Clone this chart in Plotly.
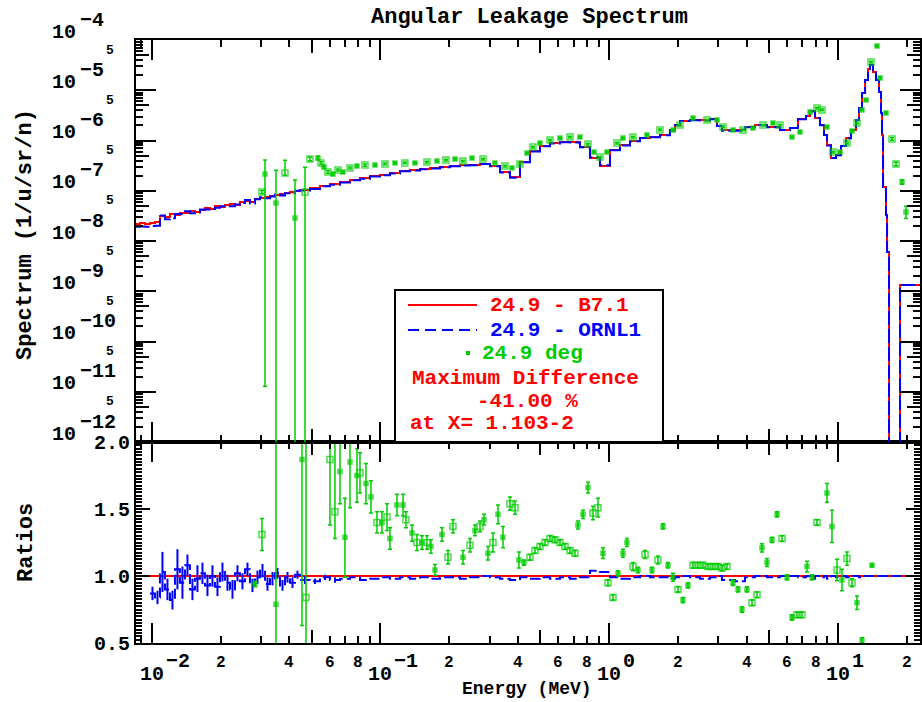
import numpy as np
import plotly.graph_objects as go

# ---------------- calculated spectra (histograms) ----------------
# bin lower edges in MeV (last entry = upper edge of last bin)
calc_edges = [0.00854, 0.00889, 0.00935, 0.00983, 0.01034, 0.01087, 0.01143, 0.01202, 0.01264, 0.01329,
              0.01398, 0.01470, 0.01546, 0.01626, 0.01710, 0.01798, 0.01891, 0.01989, 0.02091, 0.02200,
              0.02313, 0.02432, 0.02558, 0.02690, 0.02829, 0.02976, 0.03129, 0.03291, 0.03461, 0.03639,
              0.03827, 0.04025, 0.04233, 0.04451,
              0.04923, 0.05444, 0.06020, 0.06659, 0.07364, 0.08143, 0.09006, 0.0996, 0.1101, 0.1218,
              0.1347, 0.1490, 0.1648, 0.1822, 0.2015, 0.2229, 0.2465, 0.2726, 0.3015, 0.3334,
              0.3687, 0.4077, 0.4509, 0.4987, 0.5515, 0.6099, 0.6745, 0.7459, 0.8249, 0.9124,
              1.009, 1.116, 1.234, 1.365, 1.509, 1.669, 1.846,
              1.941, 2.042, 2.258, 2.497, 2.762, 2.964, 3.117, 3.553, 3.929, 4.345,
              4.904, 5.589, 6.181, 6.699, 7.262, 7.560, 7.950, 8.361, 8.705, 8.971,
              9.340, 9.823, 10.33, 10.87, 11.42, 12.01, 12.38, 12.76, 13.16, 13.56,
              13.83, 14.25, 14.69, 15.14, 15.45, 15.61, 15.77, 16.25, 16.42, 16.75,
              18.71, 22.88]

# B7.1 spectrum (1/u/sr/n) per bin
b71_flux = [2.18e-8, 2.28e-8, 2.18e-8, 2.28e-8, 2.39e-8, 3.14e-8, 3.00e-8, 3.45e-8, 3.29e-8, 3.61e-8,
            3.61e-8, 3.95e-8, 3.78e-8, 4.14e-8, 4.54e-8, 4.33e-8, 4.97e-8, 4.75e-8, 5.20e-8, 5.45e-8,
            5.20e-8, 5.97e-8, 6.25e-8, 5.97e-8, 6.85e-8, 7.17e-8, 7.51e-8, 7.86e-8, 8.23e-8, 8.61e-8,
            9.02e-8, 9.44e-8, 9.89e-8, 1.04e-7,
            1.13e-7, 1.24e-7, 1.36e-7, 1.49e-7, 1.64e-7, 1.79e-7, 1.97e-7, 2.06e-7, 2.26e-7, 2.47e-7,
            2.59e-7, 2.71e-7, 2.84e-7, 2.97e-7, 3.11e-7, 3.25e-7, 3.25e-7, 3.41e-7, 3.11e-7, 2.36e-7,
            1.88e-7, 3.73e-7, 6.18e-7, 7.77e-7, 8.92e-7, 9.34e-7, 9.34e-7, 7.42e-7, 4.48e-7, 3.11e-7,
            6.47e-7, 8.14e-7, 9.77e-7, 1.12e-6, 1.17e-6, 1.29e-6, 1.62e-6,
            2.03e-6, 2.44e-6, 2.56e-6, 2.56e-6, 2.68e-6, 1.94e-6, 1.62e-6, 1.62e-6, 1.86e-6, 2.03e-6,
            1.86e-6, 1.62e-6, 1.77e-6, 2.68e-6, 3.07e-6, 3.87e-6, 2.80e-6, 2.03e-6, 1.29e-6, 8.14e-7,
            4.48e-7, 5.14e-7, 7.77e-7, 1.12e-6, 1.62e-6, 2.56e-6, 4.43e-6, 8.82e-6, 1.60e-5, 2.65e-5,
            3.18e-5, 2.31e-5, 1.60e-5, 9.23e-6, 3.53e-6, 1.29e-6, 1.19e-7, 3.29e-8, 6.04e-9, 1e-16,
            1.33e-9]

# ORNL1 / B7.1 ratio per bin
ornl_to_b71 = [0.88, 0.85, 0.88, 0.87, 0.84, 1.03, 0.90, 0.82, 1.05, 0.95,
               1.08, 0.90, 0.98, 1.02, 0.93, 1.00, 0.92, 1.03, 0.95, 0.90,
               1.02, 0.96, 1.05, 0.93, 0.99, 1.04, 0.94, 0.98, 1.02, 0.93,
               0.99, 0.95, 1.01, 0.97,
               0.96, 0.99, 0.97, 0.98, 0.99, 0.97, 0.98, 0.99, 0.98, 0.99,
               0.98, 0.99, 0.98, 0.99, 0.99, 0.98, 0.99, 1.00, 0.99, 0.98,
               0.97, 0.99, 0.98, 0.99, 0.98, 0.99, 0.98, 0.99, 1.04, 1.03,
               0.99, 0.98, 0.99, 1.00, 0.99, 0.99, 0.98,
               0.99, 1.00, 0.99, 0.98, 0.99, 1.00, 0.97, 0.96, 0.99, 1.00,
               0.99, 1.00, 1.00, 0.99, 1.00, 0.98, 1.00, 0.99, 1.00, 0.98,
               1.00, 0.99, 1.00, 0.99, 1.00, 1.00, 0.99, 1.00, 1.00, 1.00,
               1.00, 1.00, 1.00, 1.00, 1.00, 1.00, 1.00, 1.00, 1.00, 1.00,
               1.00]
# statistical error of the ratio for the first 37 bins
ornl_ratio_err = [0.05, 0.05, 0.05, 0.05, 0.05, 0.15, 0.08, 0.07, 0.15, 0.12,
                  0.08, 0.08, 0.10, 0.08, 0.08, 0.08, 0.07, 0.07, 0.06, 0.07,
                  0.06, 0.06, 0.05, 0.05, 0.05, 0.05, 0.05, 0.05, 0.04, 0.04,
                  0.04, 0.04, 0.03, 0.03, 0.02, 0.02, 0.02]

# ---------------- measurement, 24.9 deg ----------------
exp_E = [0.03036, 0.03129, 0.03495, 0.03827, 0.04233, 0.04681, 0.04923, 0.05335, 0.05500, 0.05668,
         0.05901, 0.06204, 0.06525, 0.06861, 0.07364, 0.07901, 0.08563, 0.09471, 0.1047, 0.1158,
         0.1280, 0.1416, 0.1598, 0.1768, 0.1935, 0.2120, 0.2297, 0.2515, 0.2810, 0.3170,
         0.3506, 0.3761, 0.4077, 0.4375, 0.4647, 0.4986, 0.5515, 0.6099, 0.6745, 0.7459,
         0.8083, 0.8591, 0.9124, 0.9790, 1.083, 1.150, 1.272, 1.464, 1.669, 1.903,
         2.042, 2.327, 2.680, 2.964, 3.148, 3.482, 3.850, 4.258, 4.709, 5.208,
         5.589, 6.305, 6.834, 7.558, 8.110, 8.529, 8.970, 9.528, 10.22, 10.97,
         11.54, 12.13, 12.76, 13.29, 13.97, 14.84, 15.30, 16.25, 17.26, 17.97,
         19.09, 19.87]
exp_flux = [9.44e-8, 2.15e-7, 5.70e-8, 2.26e-7, 2.87e-8, 9.44e-8, 4.28e-7, 4.48e-7, 3.57e-7, 2.97e-7,
            2.36e-7, 2.15e-7, 2.59e-7, 2.36e-7, 2.84e-7, 3.11e-7, 3.25e-7, 3.25e-7, 3.41e-7, 3.57e-7,
            3.57e-7, 3.57e-7, 3.73e-7, 3.91e-7, 4.09e-7, 4.28e-7, 3.91e-7, 4.48e-7, 4.28e-7, 3.57e-7,
            3.11e-7, 2.84e-7, 3.41e-7, 5.64e-7, 7.42e-7, 8.92e-7, 1.02e-6, 1.12e-6, 1.17e-6, 1.17e-6,
            8.52e-7, 5.90e-7, 4.69e-7, 5.90e-7, 8.92e-7, 1.12e-6, 1.17e-6, 1.29e-6, 1.62e-6, 1.62e-6,
            2.03e-6, 2.80e-6, 2.56e-6, 2.56e-6, 1.86e-6, 1.62e-6, 1.62e-6, 1.77e-6, 2.03e-6, 2.23e-6,
            2.03e-6, 1.17e-6, 1.48e-6, 3.69e-6, 4.43e-6, 4.05e-6, 1.86e-6, 5.90e-7, 5.90e-7, 8.92e-7,
            1.55e-6, 2.23e-6, 4.05e-6, 6.40e-6, 3.65e-5, 7.60e-5, 1.75e-5, 3.53e-6, 1.07e-6, 3.41e-7,
            1.49e-7, 3.78e-8]
# fractional uncertainties (upper / lower)
exp_err_up = [0.07, 0.90, 3.50, 0.80, 4.70, 2.10, 0.08, 0.08, 0.06, 0.06,
              0.06, 0.06, 0.05, 0.05, 0.05, 0.05, 0.05, 0.05, 0.04, 0.04,
              0.04, 0.04, 0.04, 0.04, 0.04, 0.04, 0.04, 0.04, 0.04, 0.04,
              0.04, 0.04, 0.04, 0.04, 0.04, 0.04, 0.04, 0.04, 0.04, 0.04,
              0.04, 0.04, 0.04, 0.04, 0.04, 0.04, 0.04, 0.04, 0.04, 0.04,
              0.04, 0.04, 0.04, 0.04, 0.04, 0.04, 0.04, 0.04, 0.04, 0.04,
              0.04, 0.04, 0.04, 0.04, 0.04, 0.04, 0.04, 0.04, 0.04, 0.04,
              0.04, 0.04, 0.04, 0.04, 0.04, 0.04, 0.05, 0.05, 0.06, 0.08,
              0.10, 0.30]
exp_err_dn = [0.07, 0.99994, 0.99999, 0.10, 0.99999, 0.99999, 0.08, 0.08, 0.06, 0.06,
              0.06, 0.06, 0.05, 0.05, 0.05, 0.05, 0.05, 0.05, 0.04, 0.04,
              0.04, 0.04, 0.04, 0.04, 0.04, 0.04, 0.04, 0.04, 0.04, 0.04,
              0.04, 0.04, 0.04, 0.04, 0.04, 0.04, 0.04, 0.04, 0.04, 0.04,
              0.04, 0.04, 0.04, 0.04, 0.04, 0.04, 0.04, 0.04, 0.04, 0.04,
              0.04, 0.04, 0.04, 0.04, 0.04, 0.04, 0.04, 0.04, 0.04, 0.04,
              0.04, 0.04, 0.04, 0.04, 0.04, 0.04, 0.04, 0.04, 0.04, 0.04,
              0.04, 0.04, 0.04, 0.04, 0.04, 0.04, 0.05, 0.05, 0.06, 0.08,
              0.10, 0.26]
exp_kind = ['o', 'd', 'd', 'o', 'd', 'o', 'o', 'd', 'o', 'd',
            'o', 'd', 'o', 'd', 'o', 'd', 'o', 'd', 'o', 'd',
            'o', 'd', 'o', 'd', 'o', 'd', 'o', 'd', 'o', 'd',
            'o', 'd', 'o', 'd', 'o', 'd', 'o', 'd', 'o', 'd',
            'o', 'd', 'o', 'd', 'o', 'd', 'o', 'd', 'o', 'd',
            'o', 'd', 'o', 'd', 'o', 'd', 'o', 'd', 'o', 'd',
            'o', 'd', 'd', 'd', 'o', 'o', 'd', 'o', 'd', 'o',
            'd', 'o', 'd', 'd', 'o', 'd', 'd', 'd', 'o', 'o',
            'd', 'd']

# ---------------- measurement / B7.1 ratios ----------------
ratio_E = [0.02829, 0.03036, 0.03495, 0.04542, 0.04728, 0.06020, 0.06330, 0.06657, 0.07000, 0.07364,
           0.07901, 0.08143, 0.08650, 0.09096, 0.09663, 0.1016, 0.1069, 0.1101, 0.1182, 0.1256,
           0.1294, 0.1375, 0.1445, 0.1520, 0.1598, 0.1664, 0.1733, 0.1859, 0.1975, 0.2077,
           0.2297, 0.2465, 0.2592, 0.2726, 0.2838, 0.2954, 0.3107, 0.3267, 0.3436, 0.3687,
           0.3878, 0.4036, 0.4245, 0.4509, 0.4742, 0.4987, 0.5245, 0.5515, 0.5800, 0.6099,
           0.6414, 0.6745, 0.7094, 0.7311, 0.7689, 0.8083, 0.8503, 0.8943, 0.9404, 0.9890,
           1.040, 1.094, 1.150, 1.197, 1.272, 1.338, 1.436, 1.540, 1.636, 1.721,
           1.809, 1.903, 2.001, 2.104, 2.213, 2.327, 2.447, 2.574, 2.706, 2.846,
           2.993, 3.117, 3.278, 3.482, 3.662, 3.812, 4.009, 4.216, 4.434, 4.662,
           4.903, 5.156, 5.423, 5.702, 5.997, 6.305, 6.632, 6.974, 7.334, 7.713,
           8.110, 8.970, 9.432, 9.920, 10.43, 10.97, 11.54, 12.13, 12.76, 14.11]
ratio_val = [0.94, 1.31, 0.79, 1.87, 0.84, 1.87, 1.48, 1.78, 1.29, 1.85,
             1.75, 1.77, 1.69, 1.59, 1.40, 1.40, 1.44, 1.28, 1.53, 1.53,
             1.42, 1.32, 1.25, 1.25, 1.25, 1.22, 1.045, 1.31, 1.14, 1.37,
             1.14, 1.23, 1.34, 1.37, 1.42, 1.17, 1.25, 1.46, 1.29, 1.54,
             1.51, 1.12, 1.10, 1.14, 1.19, 1.22, 1.25, 1.28, 1.27, 1.25,
             1.22, 1.19, 1.17, 1.38, 1.46, 1.66, 1.47, 1.51, 1.17, 0.95,
             0.84, 1.02, 1.17, 1.25, 1.07, 1.045, 1.16, 1.045, 1.12, 1.37,
             1.08, 0.99, 0.90, 0.82, 0.93, 1.08, 1.08, 1.08, 1.07, 1.07,
             1.07, 1.06, 1.07, 0.95, 0.90, 0.75, 0.90, 0.80, 0.86, 1.21,
             1.10, 1.27, 1.46, 1.28, 0.99, 0.69, 0.71, 0.71, 1.07, 0.99,
             1.40, 1.62, 1.37, 1.045, 0.97, 1.13, 0.95, 0.80, 0.52, 1.08]
ratio_err_up = [0.02, 0.12, 1.30, 0.30, 1.20, 0.20, 0.60, 0.30, 0.29, 0.20,
                0.20, 0.15, 0.15, 0.12, 0.08, 0.08, 0.10, 0.08, 0.08, 0.08,
                0.06, 0.06, 0.06, 0.05, 0.05, 0.05, 0.04, 0.05, 0.05, 0.05,
                0.05, 0.05, 0.04, 0.04, 0.04, 0.05, 0.07, 0.07, 0.08, 0.05,
                0.05, 0.06, 0.02, 0.02, 0.02, 0.02, 0.02, 0.02, 0.02, 0.02,
                0.02, 0.02, 0.02, 0.03, 0.03, 0.04, 0.05, 0.07, 0.04, 0.02,
                0.02, 0.02, 0.03, 0.03, 0.03, 0.02, 0.03, 0.02, 0.03, 0.02,
                0.02, 0.03, 0.02, 0.02, 0.02, 0.02, 0.02, 0.02, 0.02, 0.02,
                0.02, 0.02, 0.02, 0.02, 0.02, 0.02, 0.02, 0.02, 0.02, 0.03,
                0.03, 0.02, 0.02, 0.02, 0.02, 0.02, 0.02, 0.02, 0.04, 0.02,
                0.02, 0.07, 0.12, 0.08, 0.08, 0.05, 0.03, 0.05, 0.02, 0.01]
ratio_err_dn = [0.02, 0.12, 0.35, 1.24, 0.40, 0.49, 0.20, 0.24, 0.30, 0.34,
                0.20, 0.15, 0.15, 0.12, 0.08, 0.08, 0.10, 0.08, 0.08, 0.08,
                0.06, 0.06, 0.06, 0.05, 0.05, 0.05, 0.04, 0.05, 0.05, 0.05,
                0.05, 0.05, 0.04, 0.04, 0.04, 0.05, 0.07, 0.07, 0.08, 0.05,
                0.05, 0.06, 0.02, 0.02, 0.02, 0.02, 0.02, 0.02, 0.02, 0.02,
                0.02, 0.02, 0.02, 0.03, 0.03, 0.04, 0.05, 0.07, 0.04, 0.02,
                0.02, 0.02, 0.03, 0.03, 0.03, 0.02, 0.03, 0.02, 0.03, 0.02,
                0.02, 0.03, 0.02, 0.02, 0.02, 0.02, 0.02, 0.02, 0.02, 0.02,
                0.02, 0.02, 0.02, 0.02, 0.02, 0.02, 0.02, 0.02, 0.02, 0.03,
                0.03, 0.02, 0.02, 0.02, 0.02, 0.02, 0.02, 0.02, 0.04, 0.02,
                0.02, 0.07, 0.12, 0.08, 0.08, 0.05, 0.03, 0.05, 0.02, 0.01]
ratio_kind = ['d', 'o', 'd', 'd', 'o', 'o', 'o', 'd', 'd', 'd',
              'd', 'o', 'd', 'd', 'o', 'd', 'o', 'd', 'd', 'd',
              'o', 'd', 'o', 'd', 'o', 'd', 'd', 'd', 'o', 'o',
              'd', 'o', 'd', 'o', 'd', 'd', 'o', 'd', 'd', 'o',
              'o', 'd', 'd', 'o', 'o', 'o', 'o', 'o', 'o', 'o',
              'o', 'o', 'o', 'd', 'd', 'd', 'o', 'o', 'd', 'o',
              'o', 'd', 'd', 'd', 'o', 'd', 'o', 'd', 'o', 'd',
              'd', 'd', 'o', 'd', 'd', 'o', 'o', 'o', 'o', 'o',
              'o', 'o', 'o', 'd', 'd', 'd', 'd', 'o', 'o', 'd',
              'd', 'd', 'd', 'o', 'd', 'd', 'o', 'o', 'd', 'd',
              'o', 'd', 'd', 'o', 'd', 'o', 'o', 'd', 'd', 'd']

# ---------------- axes / labels ----------------
x_min, x_max = 0.00854, 22.88
y_dec_exp = [-4, -5, -6, -7, -8, -9, -10, -11, -12]
x_dec_vals = [0.01, 0.1, 1.0, 10.0]
x_dec_exp = ['\u22122', '\u22121', '0', '1']
x_digit_vals = [0.02, 0.04, 0.06, 0.08, 0.2, 0.4, 0.6, 0.8, 2, 4, 6, 8, 20]
x_digit_text = ['2', '4', '6', '8', '2', '4', '6', '8', '2', '4', '6', '8', '2']
ratio_ticks = [0.5, 1.0, 1.5, 2.0]
ratio_ticktext = ['0.5', '1.0', '1.5', '2.0']
title_text = 'Angular Leakage Spectrum'
legend_series = ['24.9 - B7.1', '24.9 - ORNL1', '24.9 deg']
legend_notes = ['Maximum Difference', '-41.00 %', 'at X= 1.103-2']

RED, BLUE, GREEN = '#ff0000', '#0000ff', '#00cc00'
FONT = 'Liberation Mono'

# pixel helpers for placing decorations (plot area 136..920 x 40..643)
def PX(px):
    return (px - 136) / 784.0


def PY(py):
    return (643 - py) / 603.0


fig = go.Figure()

# ---- top panel ----
red_y = b71_flux + [b71_flux[-1]]
ornl_flux = [f * r for f, r in zip(b71_flux, ornl_to_b71)]
blue_y = ornl_flux + [ornl_flux[-1]]
fig.add_trace(go.Scatter(x=calc_edges, y=red_y, mode='lines', xaxis='x2', yaxis='y',
                         line=dict(color=RED, width=2, shape='hv'), hoverinfo='skip'))
fig.add_trace(go.Scatter(x=calc_edges, y=blue_y, mode='lines', xaxis='x2', yaxis='y',
                         line=dict(color=BLUE, width=2, shape='hv', dash='14px,4px'), hoverinfo='skip'))

sym = {'o': 'square-open', 'd': 'square'}
siz = {'o': 6, 'd': 4}
fig.add_trace(go.Scatter(
    x=exp_E, y=exp_flux, mode='markers', xaxis='x2', yaxis='y',
    marker=dict(color=GREEN, symbol=[sym[k] for k in exp_kind], size=[siz[k] for k in exp_kind],
                line=dict(color=GREEN, width=1.5)),
    error_y=dict(type='data', symmetric=False,
                 array=[f * u for f, u in zip(exp_flux, exp_err_up)],
                 arrayminus=[f * d for f, d in zip(exp_flux, exp_err_dn)],
                 color=GREEN, thickness=1.5, width=2),
    hoverinfo='skip'))

# ---- bottom panel ----
self_ratio = [f / f for f in b71_flux]
fig.add_trace(go.Scatter(x=calc_edges, y=self_ratio + [self_ratio[-1]], mode='lines', xaxis='x', yaxis='y2',
                         line=dict(color=RED, width=2, shape='hv'), hoverinfo='skip'))
fig.add_trace(go.Scatter(x=calc_edges[3:], y=ornl_to_b71[3:] + [ornl_to_b71[-1]], mode='lines',
                         xaxis='x', yaxis='y2',
                         line=dict(color=BLUE, width=2, shape='hv', dash='10px,4px'), hoverinfo='skip'))
n_err = len(ornl_ratio_err)
centers = [np.sqrt(calc_edges[i] * calc_edges[i + 1]) for i in range(3, n_err)]
fig.add_trace(go.Scatter(x=centers, y=ornl_to_b71[3:n_err], mode='markers', xaxis='x', yaxis='y2',
                         marker=dict(size=1, color=BLUE),
                         error_y=dict(type='data', array=ornl_ratio_err[3:n_err], color=BLUE,
                                      thickness=2, width=0),
                         hoverinfo='skip'))
fig.add_trace(go.Scatter(
    x=ratio_E, y=ratio_val, mode='markers', xaxis='x', yaxis='y2',
    marker=dict(color=GREEN, symbol=[sym[k] for k in ratio_kind], size=[siz[k] for k in ratio_kind],
                line=dict(color=GREEN, width=1.5)),
    error_y=dict(type='data', symmetric=False, array=ratio_err_up, arrayminus=ratio_err_dn,
                 color=GREEN, thickness=1.5, width=2),
    hoverinfo='skip'))

# dummy traces so the overlay (medium tick) axes are drawn
fig.add_trace(go.Scatter(x=[None], y=[None], xaxis='x3', yaxis='y2', showlegend=False, hoverinfo='skip'))
fig.add_trace(go.Scatter(x=[None], y=[None], xaxis='x4', yaxis='y', showlegend=False, hoverinfo='skip'))
fig.add_trace(go.Scatter(x=[None], y=[None], xaxis='x2', yaxis='y3', showlegend=False, hoverinfo='skip'))

xr = [np.log10(x_min), np.log10(x_max)]
minor_x = [m * d for d in [0.001, 0.01, 0.1, 1.0, 10.0] for m in [2, 3, 4, 6, 7, 8, 9]]
minor_x = [v for v in minor_x if x_min <= v <= x_max]
mid_x = [0.05, 0.5, 5.0]
dec_y = [10.0 ** e for e in y_dec_exp]
mid_y = [5 * 10.0 ** e for e in y_dec_exp[1:]]
minor_y = [m * 10.0 ** e for e in y_dec_exp[1:] for m in [2, 3, 4, 6, 7, 8, 9]]

tick_common = dict(ticks='inside', tickcolor='black', tickwidth=2, showgrid=False, zeroline=False,
                   automargin=False)
line_common = dict(showline=True, linecolor='black', linewidth=2, mirror='ticks')
minor_x_cfg = dict(tickmode='array', tickvals=minor_x, ticks='inside', ticklen=7, tickwidth=2,
                   tickcolor='black', showgrid=False)

fig.update_layout(
    width=922, height=702, margin=dict(l=136, r=2, t=40, b=59, autoexpand=False),
    paper_bgcolor='white', plot_bgcolor='white', showlegend=False,
    xaxis=dict(type='log', range=xr, domain=[0, 1], anchor='y2', tickmode='array', tickvals=x_dec_vals,
               ticklen=20, showticklabels=False, minor=minor_x_cfg, **tick_common, **line_common),
    xaxis2=dict(type='log', range=xr, domain=[0, 1], anchor='y', tickmode='array', tickvals=x_dec_vals,
                ticklen=20, showticklabels=False, minor=minor_x_cfg, **tick_common, **line_common),
    xaxis3=dict(type='log', range=xr, overlaying='x', anchor='y2', tickmode='array', tickvals=mid_x,
                ticklen=13, showticklabels=False, showline=False, mirror='ticks', **tick_common),
    xaxis4=dict(type='log', range=xr, overlaying='x2', anchor='y', tickmode='array', tickvals=mid_x,
                ticklen=13, showticklabels=False, showline=False, mirror='ticks', **tick_common),
    yaxis=dict(type='log', range=[-12, -4], domain=[1 / 3, 1], anchor='x2', tickmode='array',
               tickvals=dec_y, ticklen=20, showticklabels=False,
               minor=dict(tickmode='array', tickvals=minor_y, ticks='inside', ticklen=7, tickwidth=2,
                          tickcolor='black', showgrid=False),
               **tick_common, **line_common),
    yaxis3=dict(type='log', range=[-12, -4], domain=[1 / 3, 1], overlaying='y', anchor='x2',
                tickmode='array', tickvals=mid_y, ticklen=13, showticklabels=False, showline=False,
                mirror='ticks', **tick_common),
    yaxis2=dict(range=[0.5, 2.0], domain=[0, 1 / 3], anchor='x', tickmode='array', tickvals=ratio_ticks,
                ticktext=ratio_ticktext, ticklen=14,
                tickfont=dict(family=FONT, size=20, color='black', weight='bold'),
                minor=dict(dtick=0.025, ticks='inside', ticklen=6, tickwidth=2, tickcolor='black',
                           showgrid=False),
                **tick_common, **line_common),
)

ann = []
bold = dict(family=FONT, color='black', weight='bold')
# title
ann.append(dict(text=title_text, xref='paper', yref='paper', x=PX(529), y=PY(18), showarrow=False,
                xanchor='center', yanchor='middle', font=dict(size=22, **bold)))
# axis titles
ann.append(dict(text='Spectrum (1/u/sr/n)', xref='paper', yref='paper', x=PX(26), y=PY(235),
                textangle=-90, showarrow=False, xanchor='center', yanchor='middle', font=dict(size=22, **bold)))
ann.append(dict(text='Ratios', xref='paper', yref='paper', x=PX(26), y=PY(543),
                textangle=-90, showarrow=False, xanchor='center', yanchor='middle', font=dict(size=22, **bold)))
ann.append(dict(text='Energy (MeV)', xref='paper', yref='paper', x=PX(527), y=PY(689),
                showarrow=False, xanchor='center', yanchor='middle', font=dict(size=18, **bold)))
# top y tick labels
for e in y_dec_exp:
    ann.append(dict(text='10', xref='paper', yref='y', x=PX(78), y=e, yshift=8, showarrow=False,
                    xanchor='right', yanchor='middle', font=dict(size=20, **bold)))
    ann.append(dict(text=('\u2212' + str(-e)), xref='paper', yref='y', x=PX(78), y=e, yshift=20,
                    showarrow=False, xanchor='left', yanchor='middle', font=dict(size=20, **bold)))
for v in mid_y:
    ann.append(dict(text='5', xref='paper', yref='y', x=PX(110), y=np.log10(v), yshift=5, showarrow=False,
                    xanchor='center', yanchor='middle', font=dict(size=13, **bold)))
# x tick labels
for v, t in zip(x_dec_vals, x_dec_exp):
    ann.append(dict(text='10', xref='x', yref='paper', x=np.log10(v), y=PY(674), showarrow=False,
                    xanchor='center', yanchor='middle', font=dict(size=20, **bold)))
    ann.append(dict(text=t, xref='x', yref='paper', x=np.log10(v), y=PY(661), xshift=12, showarrow=False,
                    xanchor='left', yanchor='middle', font=dict(size=20, **bold)))
for v, t in zip(x_digit_vals, x_digit_text):
    ann.append(dict(text=t, xref='x', yref='paper', x=np.log10(v), y=PY(663), showarrow=False,
                    xanchor='center', yanchor='middle', font=dict(size=16, **bold)))

# legend box
shapes = [dict(type='rect', xref='paper', yref='paper', x0=PX(395), x1=PX(663), y0=PY(442), y1=PY(290),
               line=dict(color='black', width=2), fillcolor='white', layer='above'),
          dict(type='line', xref='paper', yref='paper', x0=PX(408), x1=PX(477), y0=PY(305), y1=PY(305),
               line=dict(color=RED, width=2), layer='above'),
          dict(type='line', xref='paper', yref='paper', x0=PX(408), x1=PX(477), y0=PY(330), y1=PY(330),
               line=dict(color=BLUE, width=2, dash='11px,6px'), layer='above'),
          dict(type='rect', xref='paper', yref='paper', x0=PX(466), x1=PX(470), y0=PY(355), y1=PY(351),
               line=dict(color=GREEN, width=0), fillcolor=GREEN, layer='above')]
leg_cols = [RED, BLUE, GREEN]
leg_y = [305, 330, 353]
leg_x = [488, 488, 480]
for t, c, yy, xx in zip(legend_series, leg_cols, leg_y, leg_x):
    ann.append(dict(text=t, xref='paper', yref='paper', x=PX(xx), y=PY(yy), showarrow=False,
                    xanchor='left', yanchor='middle', font=dict(family=FONT, size=21, color=c, weight='bold')))
note_pos = [(410, 378, 'left'), (527, 401, 'center'), (408, 423, 'left')]
for t, (xx, yy, anc) in zip(legend_notes, note_pos):
    ann.append(dict(text=t, xref='paper', yref='paper', x=PX(xx), y=PY(yy), showarrow=False,
                    xanchor=anc, yanchor='middle', font=dict(family=FONT, size=21, color=RED, weight='bold')))

fig.update_layout(annotations=ann, shapes=shapes)
fig.write_html('out.html', config={'displayModeBar': False},
               post_script="document.body.style.margin='0';document.body.style.padding='0';")
